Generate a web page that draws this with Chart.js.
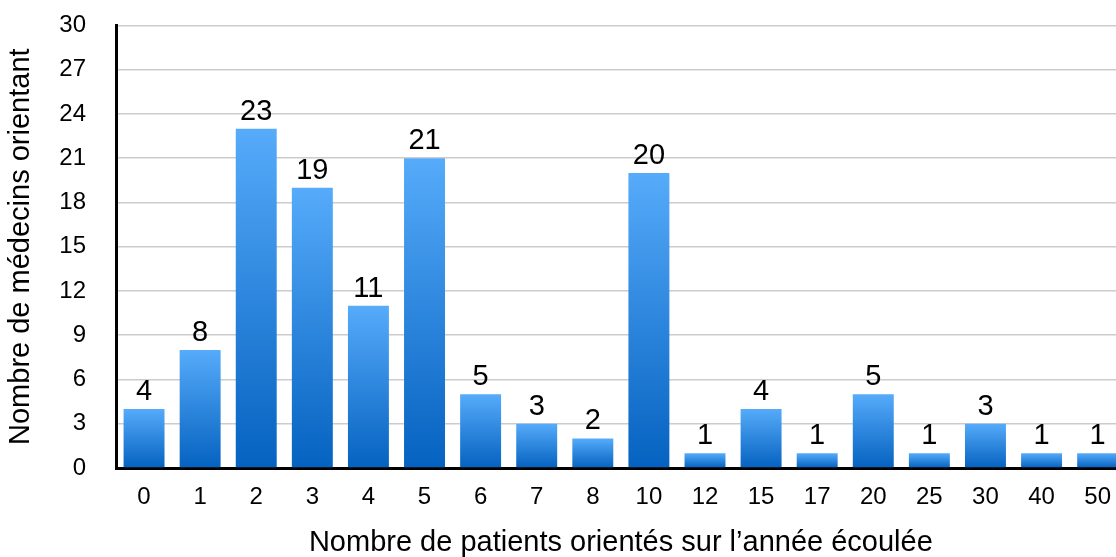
<!DOCTYPE html>
<html>
<head>
<meta charset="utf-8">
<script src="https://cdn.jsdelivr.net/npm/chart.js@4"></script>
<style>
  html, body { margin: 0; padding: 0; background: #fff; overflow: hidden; }
  #wrap { width: 1126px; height: 576px; margin-top: -19px; }
</style>
</head>
<body>
<div id="wrap"><canvas id="patients"></canvas></div>
<script>
// categories (patients orientés) and counts (médecins)
var categories = ["0", "1", "2", "3", "4", "5", "6", "7", "8", "10", "12", "15", "17", "20", "25", "30", "40", "50"];
var medecins = [4, 8, 23, 19, 11, 21, 5, 3, 2, 20, 1, 4, 1, 5, 1, 3, 1, 1];
var yTicks = [0, 3, 6, 9, 12, 15, 18, 21, 24, 27, 30];

var FONT = "'Liberation Sans', Helvetica, Arial, sans-serif";

// vertical gradient for each bar, light on top, dark at base
function barGradient(c) {
  var chart = c.chart;
  if (!chart.chartArea) return '#2f86e0';
  var y = chart.scales.y;
  var top = y.getPixelForValue(c.raw);
  var bottom = y.getPixelForValue(0);
  var g = chart.ctx.createLinearGradient(0, top, 0, bottom);
  g.addColorStop(0, '#56abfa');
  g.addColorStop(1, '#0562c0');
  return g;
}

// numbers above bars
var valueLabels = {
  id: 'valueLabels',
  afterDatasetsDraw: function(chart) {
    var ctx = chart.ctx;
    var meta = chart.getDatasetMeta(0);
    ctx.save();
    ctx.font = '29px ' + FONT;
    ctx.fillStyle = '#000';
    ctx.textAlign = 'center';
    ctx.textBaseline = 'alphabetic';
    meta.data.forEach(function(bar, i) {
      ctx.fillText(medecins[i], bar.x, bar.y - 9);
    });
    ctx.restore();
  }
};

var ctxPatients = document.getElementById("patients").getContext("2d");

new Chart(ctxPatients, {
  type: 'bar',
  data: {
    labels: categories,
    datasets: [{
      data: medecins,
      backgroundColor: barGradient,
      borderWidth: 0,
      barPercentage: 0.73,
      categoryPercentage: 1.0
    }]
  },
  plugins: [valueLabels],
  options: {
    responsive: true,
    maintainAspectRatio: false,
    animation: false,
    layout: { padding: { top: 0, right: 0, left: 4, bottom: 0 } },
    plugins: {
      legend: { display: false },
      tooltip: { enabled: false }
    },
    scales: {
      x: {
        afterFit: function(axis) { axis.height = 89; },
        grid: { display: false, drawTicks: false },
        border: { color: '#000', width: 3 },
        ticks: { color: '#000', font: { size: 24, family: FONT }, padding: 15, maxRotation: 0 },
        title: {
          display: true,
          text: 'Nombre de patients orientés sur l’année écoulée',
          color: '#000',
          font: { size: 29, family: FONT, lineHeight: 1 },
          padding: { top: 0, bottom: 0 }
        }
      },
      y: {
        min: 0,
        max: 30,
        afterFit: function(axis) { axis.width = 112; },
        afterBuildTicks: function(axis) {
          axis.ticks = yTicks.map(function(v) { return { value: v }; });
        },
        grid: { color: '#cccccc', lineWidth: 1.5, drawTicks: false },
        border: { color: '#000', width: 3 },
        ticks: { color: '#000', font: { size: 24, family: FONT }, padding: 30 },
        title: {
          display: true,
          text: 'Nombre de médecins orientant',
          color: '#000',
          font: { size: 29, family: FONT },
          padding: { top: 0, bottom: 0 }
        }
      }
    }
  }
});
</script>
</body>
</html>
